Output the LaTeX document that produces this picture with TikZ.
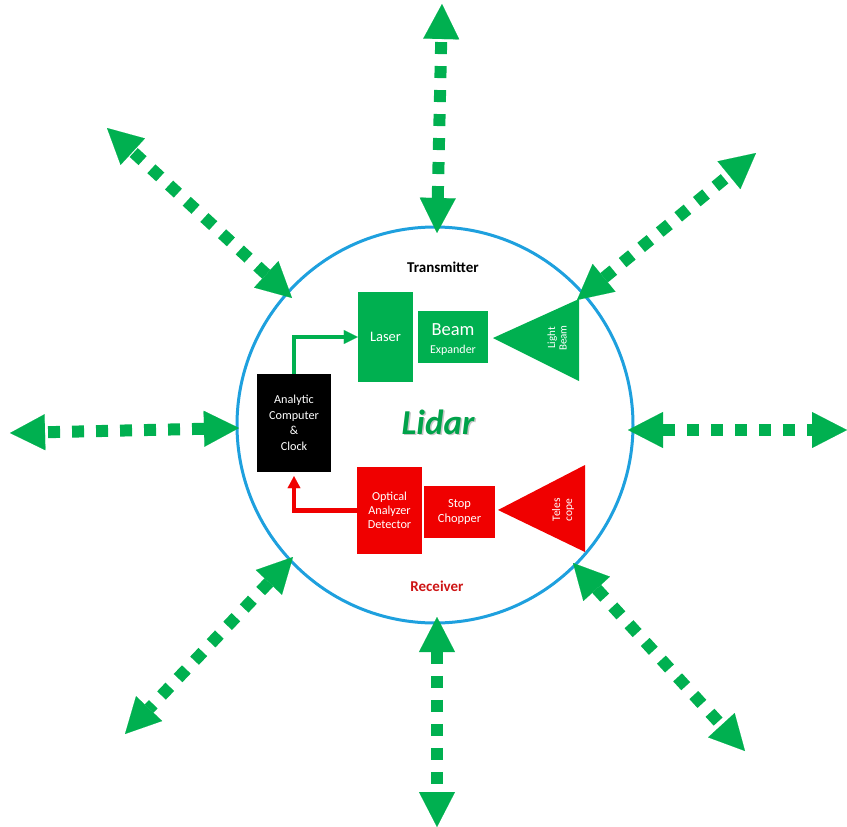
\documentclass[tikz,border=0pt]{standalone}
\usepackage{fontspec}
\setmainfont{Carlito}
\usetikzlibrary{arrows.meta}
\definecolor{lgreen}{RGB}{0,176,80}
\definecolor{lred}{RGB}{240,0,0}
\definecolor{ringblue}{RGB}{30,160,222}
\definecolor{rxred}{RGB}{205,20,20}
\tikzset{
  ray/.style={draw=lgreen, line width=12pt, line cap=butt,
    dash pattern=on 12pt off 12pt,
    >={Triangle[length=35pt,width=36pt,line width=0.1pt]}, <->},
  unit/.style={rectangle, inner sep=0pt, align=center, text=white},
  ctrl/.style={draw=lgreen, line width=4.5pt, line cap=butt,
    -{Triangle[length=14pt,width=14pt,line width=0.1pt]}},
  ret/.style={draw=lred, line width=4.5pt, line cap=butt,
    -{Triangle[length=12pt,width=13pt,line width=0.1pt]}, shorten >=4pt},
  celltext/.style={text=white, align=center},
}
\begin{document}
\begin{tikzpicture}[x=1pt,y=-1pt]
\useasboundingbox (0,0) rectangle (847,827);

% outer ring of the instrument
\node[circle, draw=ringblue, line width=3pt, minimum size=396pt, inner sep=0pt] (ring) at (435,425) {};

% transmitter chain
\node[unit, fill=lgreen, minimum width=55pt, minimum height=90pt,
      font=\fontsize{14.5}{16}\selectfont] (laser) at (385.5,337) {Laser};
\node[unit, fill=lgreen, minimum width=70pt, minimum height=52pt] (expander) at (453,337) {};
\node[text=white, font=\fontsize{18.5}{20}\selectfont, inner sep=0pt] (beamword) at (453,330) {Beam};
\node[text=white, font=\fontsize{12}{14}\selectfont, inner sep=0pt] (expword) at (453,350) {Expander};
\fill[lgreen] (493,338) -- (579,299) -- (579,381) -- cycle;
\node[rotate=90, celltext, font=\fontsize{11}{11.5}\selectfont] (lighttext) at (557,338) {Light\\Beam};

% control unit
\node[unit, fill=black, minimum width=74pt, minimum height=98pt,
      font=\fontsize{12.2}{15.5}\selectfont] (comp) at (294,423) {Analytic\\Computer\\\&\\Clock};

% receiver chain
\node[unit, fill=lred, minimum width=65pt, minimum height=87pt,
      font=\fontsize{12.2}{14}\selectfont] (optical) at (389.5,510.5) {Optical\\Analyzer\\Detector};
\node[unit, fill=lred, minimum width=71pt, minimum height=52pt,
      font=\fontsize{12.4}{15}\selectfont] (chopper) at (459.5,512) {Stop\\Chopper};
\fill[lred] (498,510) -- (585,465) -- (585,552) -- cycle;
\node[rotate=90, celltext, font=\fontsize{11.5}{12}\selectfont] (scopetext) at (563,510) {Teles\\cope};

% labels
\node[font=\bfseries\fontsize{15}{16}\selectfont] (tx) at (443,267) {Transmitter};
\node[font=\bfseries\fontsize{15}{16}\selectfont, text=rxred] (rx) at (437,586) {Receiver};
\node[font=\bfseries\itshape\fontsize{35}{38}\selectfont, text=black!22] (lidarshadow) at (439.5,423.5) {Lidar};
\node[font=\bfseries\itshape\fontsize{35}{38}\selectfont, text=lgreen!92!black] (lidar) at (438,422) {Lidar};

% signal paths
\draw[ctrl] (comp.north) |- (laser.west);
\draw[ret] (optical.west) -| (comp.south);

% rays leaving and entering the instrument
\coordinate (nIn)  at (437,233); \coordinate (nOut)  at (442,4);
\coordinate (neIn) at (577,300); \coordinate (neOut) at (756,153);
\coordinate (eIn)  at (628,430); \coordinate (eOut)  at (847,430);
\coordinate (seIn) at (573,563); \coordinate (seOut) at (745,751);
\coordinate (sIn)  at (437,617); \coordinate (sOut)  at (437,827);
\coordinate (swIn) at (293,557); \coordinate (swOut) at (125,734);
\coordinate (wIn)  at (239,428); \coordinate (wOut)  at (10,433);
\coordinate (nwIn) at (292,298); \coordinate (nwOut) at (107,128);

\draw[ray] (nIn) -- (nOut);
\draw[ray] (neIn) -- (neOut);
\draw[ray] (eIn) -- (eOut);
\draw[ray] (seIn) -- (seOut);
\draw[ray] (sIn) -- (sOut);
\draw[ray] (swIn) -- (swOut);
\draw[ray] (wIn) -- (wOut);
\draw[ray] (nwIn) -- (nwOut);
\end{tikzpicture}
\end{document}
